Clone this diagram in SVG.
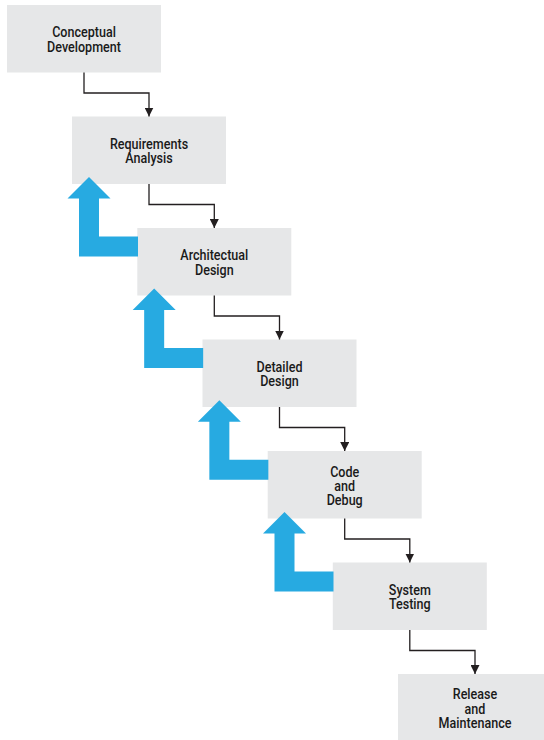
<svg xmlns="http://www.w3.org/2000/svg" width="544" height="740" viewBox="0 0 544 740">
  <style>
    .box { fill: #e6e7e8; }
    .lbl { font-family: Roboto, "Liberation Sans", sans-serif; font-weight: 500; font-size: 14.6px; fill: #1a1a1a; text-anchor: middle; }
    .flow { fill: none; stroke: #231f20; stroke-width: 1.3; marker-end: url(#head); }
    .back { fill: #27aae1; }
  </style>
  <defs>
    <marker id="head" viewBox="0 0 10 10" refX="10" refY="5" markerWidth="9" markerHeight="9" markerUnits="userSpaceOnUse" orient="auto">
      <path d="M0,0 L10,5 L0,10 Z" fill="#231f20"/>
    </marker>
    <!-- L-shaped return arrow: shaft up from a horizontal bar, head pointing up -->
    <path id="ret" d="M89,177 L110.5,198.5 L99,198.5 L99,236.5 L138,236.5 L138,256.5 L79,256.5 L79,198.5 L67.5,198.5 Z"/>
  </defs>

  <!-- process steps; labels are set in a condensed width -->
  <g id="conceptual-development">
    <rect class="box" x="7" y="5" width="154" height="67.5"/>
    <g transform="translate(84 0) scale(0.86 1)">
      <text class="lbl" x="0" y="37.3">Conceptual</text>
      <text class="lbl" x="0" y="51.7">Development</text>
    </g>
  </g>
  <g id="requirements-analysis">
    <rect class="box" x="72" y="116.5" width="154" height="67.5"/>
    <g transform="translate(149 0) scale(0.86 1)">
      <text class="lbl" x="0" y="148.8">Requirements</text>
      <text class="lbl" x="0" y="163.2">Analysis</text>
    </g>
  </g>
  <g id="architectual-design">
    <rect class="box" x="137.3" y="228" width="154" height="67.5"/>
    <g transform="translate(214.3 0) scale(0.86 1)">
      <text class="lbl" x="0" y="260.3">Architectual</text>
      <text class="lbl" x="0" y="274.7">Design</text>
    </g>
  </g>
  <g id="detailed-design">
    <rect class="box" x="202.5" y="339.5" width="154" height="67.5"/>
    <g transform="translate(279.5 0) scale(0.86 1)">
      <text class="lbl" x="0" y="371.8">Detailed</text>
      <text class="lbl" x="0" y="386.2">Design</text>
    </g>
  </g>
  <g id="code-and-debug">
    <rect class="box" x="267.7" y="451" width="154" height="67.5"/>
    <g transform="translate(344.7 0) scale(0.86 1)">
      <text class="lbl" x="0" y="476.7">Code</text>
      <text class="lbl" x="0" y="491.1">and</text>
      <text class="lbl" x="0" y="505.5">Debug</text>
    </g>
  </g>
  <g id="system-testing">
    <rect class="box" x="332.8" y="562.5" width="154" height="67.5"/>
    <g transform="translate(409.8 0) scale(0.86 1)">
      <text class="lbl" x="0" y="594.8">System</text>
      <text class="lbl" x="0" y="609.2">Testing</text>
    </g>
  </g>
  <g id="release-and-maintenance">
    <rect class="box" x="398" y="674" width="154" height="67.5"/>
    <g transform="translate(475 0) scale(0.86 1)">
      <text class="lbl" x="0" y="699.3">Release</text>
      <text class="lbl" x="0" y="713.7">and</text>
      <text class="lbl" x="0" y="728.1">Maintenance</text>
    </g>
  </g>

  <g id="connectors">
    <!-- forward flow between steps -->
    <path class="flow" d="M84,72.5 V93 H149 V116.5"/>
    <path class="flow" d="M149,184 V204.5 H214.3 V228"/>
    <path class="flow" d="M214.3,295.5 V316 H279.5 V339.5"/>
    <path class="flow" d="M279.5,407 V427.5 H344.7 V451"/>
    <path class="flow" d="M344.7,518.5 V539 H409.8 V562.5"/>
    <path class="flow" d="M409.8,630 V650.5 H475 V674"/>
    <!-- feedback to the previous step -->
    <use href="#ret" class="back"/>
    <use href="#ret" class="back" transform="translate(65.17,111.5)"/>
    <use href="#ret" class="back" transform="translate(130.35,223.2)"/>
    <use href="#ret" class="back" transform="translate(195.5,334.9)"/>
  </g>
</svg>
